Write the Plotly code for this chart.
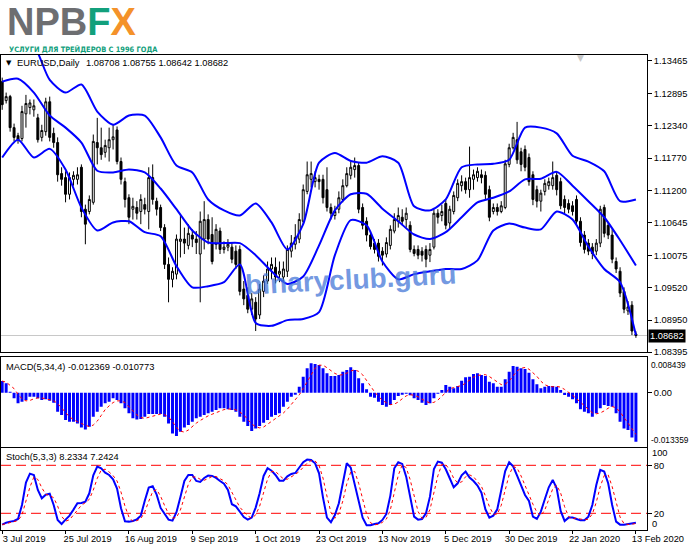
import plotly.graph_objects as go
import pandas as pd

# ---------------- data ----------------
open_ = [1.1310, 1.1277, 1.1284, 1.1230, 1.1216, 1.1211, 1.1254, 1.1265, 1.1261, 1.1247,
         1.1213, 1.1223, 1.1275, 1.1220, 1.1204, 1.1150, 1.1143, 1.1114, 1.1140, 1.1140,
         1.1161, 1.1088, 1.1084, 1.1100, 1.1204, 1.1195, 1.1187, 1.1195, 1.1209, 1.1226,
         1.1171, 1.1136, 1.1108, 1.1088, 1.1091, 1.1084, 1.1096, 1.1084, 1.1143, 1.1102,
         1.1091, 1.1056, 1.0992, 1.0966, 1.0975, 1.1032, 1.1036, 1.1025, 1.1043, 1.1036,
         1.1010, 1.1036, 1.1070, 1.1044, 1.1027, 1.1050, 1.1018, 1.1022, 1.1022, 1.1015,
         1.1018, 1.0949, 1.0938, 1.0914, 1.0926, 1.0904, 1.0945, 1.0963, 1.0984, 1.0987,
         1.0975, 1.0970, 1.0980, 1.1015, 1.1027, 1.1036, 1.1067, 1.1119, 1.1140, 1.1136,
         1.1140, 1.1140, 1.1122, 1.1091, 1.1077, 1.1088, 1.1105, 1.1129, 1.1147, 1.1157,
         1.1164, 1.1091, 1.1067, 1.1043, 1.1029, 1.1029, 1.1015, 1.1010, 1.1025, 1.1050,
         1.1067, 1.1074, 1.1070, 1.1060, 1.1018, 1.1018, 1.1015, 1.1018, 1.1008, 1.1022,
         1.1081, 1.1077, 1.1098, 1.1064, 1.1084, 1.1108, 1.1129, 1.1136, 1.1122, 1.1140,
         1.1143, 1.1148, 1.1147, 1.1122, 1.1084, 1.1091, 1.1084, 1.1091, 1.1166, 1.1195,
         1.1209, 1.1188, 1.1192, 1.1178, 1.1148, 1.1122, 1.1102, 1.1119, 1.1129, 1.1129,
         1.1147, 1.1136, 1.1105, 1.1098, 1.1094, 1.1105, 1.1067, 1.1043, 1.1029, 1.1022,
         1.1015, 1.1029, 1.1091, 1.1060, 1.1043, 1.0997, 1.0980, 1.0945, 1.0911, 1.0921,
         1.08708]
high = [1.1317, 1.1291, 1.1287, 1.1237, 1.1221, 1.1268, 1.1287, 1.1279, 1.1279, 1.1254,
        1.1235, 1.1282, 1.1284, 1.1230, 1.1213, 1.1161, 1.1154, 1.1152, 1.1154, 1.1161,
        1.1166, 1.1096, 1.1112, 1.1218, 1.1247, 1.1230, 1.1209, 1.1230, 1.1235, 1.1232,
        1.1178, 1.1143, 1.1114, 1.1108, 1.1102, 1.1114, 1.1108, 1.1161, 1.1166, 1.1108,
        1.1096, 1.1062, 1.1004, 1.0987, 1.1044, 1.1079, 1.1056, 1.1062, 1.1053, 1.1050,
        1.1084, 1.1102, 1.1079, 1.1074, 1.1062, 1.1056, 1.1032, 1.1036, 1.1030, 1.1025,
        1.1025, 1.0963, 1.0952, 1.0942, 1.0935, 1.0958, 1.0973, 1.0997, 1.1004, 1.1004,
        1.0997, 1.0997, 1.1025, 1.1043, 1.1062, 1.1081, 1.1131, 1.1171, 1.1171, 1.1154,
        1.1148, 1.1148, 1.1161, 1.1098, 1.1094, 1.1119, 1.1140, 1.1161, 1.1171, 1.1178,
        1.1169, 1.1098, 1.1074, 1.1050, 1.1036, 1.1036, 1.1022, 1.1039, 1.1060, 1.1081,
        1.1091, 1.1088, 1.1091, 1.1067, 1.1025, 1.1025, 1.1022, 1.1025, 1.1029, 1.1088,
        1.1088, 1.1096, 1.1105, 1.1094, 1.1119, 1.1140, 1.1147, 1.1143, 1.1197, 1.1157,
        1.1161, 1.1157, 1.1154, 1.1129, 1.1098, 1.1098, 1.1102, 1.1174, 1.1202, 1.1221,
        1.1240, 1.1195, 1.1199, 1.1185, 1.1154, 1.1129, 1.1122, 1.1140, 1.1143, 1.1171,
        1.1154, 1.1143, 1.1112, 1.1105, 1.1102, 1.1112, 1.1074, 1.1050, 1.1036, 1.1029,
        1.1036, 1.1094, 1.1096, 1.1064, 1.1053, 1.1004, 1.0987, 1.0952, 1.0928, 1.0928,
        1.08755]
low = [1.1261, 1.1272, 1.1223, 1.1206, 1.1202, 1.1206, 1.1230, 1.1253, 1.1249, 1.1204,
       1.1206, 1.1216, 1.1206, 1.1195, 1.1136, 1.1129, 1.1100, 1.1105, 1.1129, 1.1131,
       1.1074, 1.1027, 1.1079, 1.1096, 1.1166, 1.1174, 1.1178, 1.1171, 1.1192, 1.1166,
       1.1131, 1.1091, 1.1062, 1.1070, 1.1070, 1.1062, 1.1079, 1.1053, 1.1096, 1.1077,
       1.1050, 1.0984, 1.0926, 1.0952, 1.0966, 1.1004, 1.1010, 1.1018, 1.1022, 1.1010,
       1.0926, 1.1018, 1.1027, 1.0992, 1.1018, 1.1010, 1.1011, 1.1015, 1.0994, 1.0984,
       1.0938, 1.0921, 1.0907, 1.0904, 1.0876, 1.0897, 1.0935, 1.0958, 1.0966, 1.0959,
       1.0961, 1.0963, 1.0970, 1.1004, 1.1018, 1.1029, 1.1062, 1.1114, 1.1126, 1.1126,
       1.1122, 1.1098, 1.1084, 1.1070, 1.1070, 1.1081, 1.1100, 1.1126, 1.1140, 1.1143,
       1.1081, 1.1053, 1.1032, 1.1018, 1.1011, 1.0997, 1.0990, 1.1004, 1.1018, 1.1046,
       1.1056, 1.1060, 1.1056, 1.1013, 1.1006, 1.1001, 1.0997, 1.0987, 1.0996, 1.1018,
       1.1063, 1.1067, 1.1053, 1.1053, 1.1079, 1.1102, 1.1119, 1.1115, 1.1108, 1.1122,
       1.1136, 1.1133, 1.1105, 1.1067, 1.1079, 1.1077, 1.1081, 1.1088, 1.1161, 1.1192,
       1.1167, 1.1154, 1.1154, 1.1129, 1.1095, 1.1091, 1.1084, 1.1112, 1.1122, 1.1122,
       1.1112, 1.1088, 1.1081, 1.1081, 1.1077, 1.1060, 1.1023, 1.1011, 1.1008, 1.1001,
       1.1008, 1.1022, 1.1039, 1.1036, 1.0994, 1.0977, 1.0935, 1.0907, 1.0904, 1.0869,
       1.08642]
close = [1.1270, 1.1284, 1.1230, 1.1213, 1.1209, 1.1258, 1.1272, 1.1273, 1.1268, 1.1209,
         1.1225, 1.1275, 1.1213, 1.1204, 1.1148, 1.1140, 1.1114, 1.1143, 1.1147, 1.1148,
         1.1084, 1.1062, 1.1105, 1.1206, 1.1195, 1.1183, 1.1199, 1.1209, 1.1214, 1.1171,
         1.1140, 1.1105, 1.1074, 1.1093, 1.1081, 1.1105, 1.1088, 1.1143, 1.1105, 1.1088,
         1.1056, 1.0992, 1.0966, 1.0980, 1.1036, 1.1036, 1.1029, 1.1046, 1.1036, 1.1030,
         1.1067, 1.1070, 1.1036, 1.0997, 1.1053, 1.1018, 1.1022, 1.1027, 1.1001, 1.0992,
         1.0945, 1.0932, 1.0914, 1.0932, 1.0897, 1.0949, 1.0963, 1.0984, 1.0992, 1.0970,
         1.0980, 1.0984, 1.1018, 1.1029, 1.1039, 1.1070, 1.1122, 1.1148, 1.1150, 1.1143,
         1.1136, 1.1108, 1.1091, 1.1081, 1.1084, 1.1108, 1.1129, 1.1150, 1.1161, 1.1164,
         1.1088, 1.1060, 1.1043, 1.1023, 1.1018, 1.1006, 1.1008, 1.1030, 1.1053, 1.1070,
         1.1077, 1.1067, 1.1081, 1.1018, 1.1011, 1.1008, 1.1008, 1.1001, 1.1018, 1.1081,
         1.1074, 1.1084, 1.1060, 1.1088, 1.1112, 1.1133, 1.1136, 1.1122, 1.1143, 1.1148,
         1.1154, 1.1143, 1.1114, 1.1074, 1.1091, 1.1084, 1.1094, 1.1167, 1.1195, 1.1213,
         1.1174, 1.1166, 1.1161, 1.1136, 1.1105, 1.1102, 1.1116, 1.1133, 1.1136, 1.1143,
         1.1122, 1.1094, 1.1091, 1.1088, 1.1084, 1.1067, 1.1030, 1.1018, 1.1015, 1.1011,
         1.1029, 1.1088, 1.1046, 1.1043, 1.1001, 1.0984, 1.0942, 1.0914, 1.0918, 1.0876,
         1.08682]

# Bollinger bands read every 4th bar
bb_bars = list(range(0, 161, 4))
bb_upper = [1.1408, 1.1395, 1.1374, 1.1313, 1.1291, 1.1305, 1.1258, 1.1235, 1.1251, 1.1251,
            1.1213, 1.1164, 1.1152, 1.1105, 1.1086, 1.1077, 1.1098, 1.1065, 1.1018, 1.1062,
            1.1169, 1.1186, 1.1172, 1.1169, 1.1180, 1.1169, 1.1093, 1.1086, 1.1105, 1.1161,
            1.1166, 1.1167, 1.1174, 1.1230, 1.1230, 1.1220, 1.1181, 1.1171, 1.1154, 1.1102,
            1.1105]
bb_middle = [1.1310, 1.1315, 1.1291, 1.1251, 1.1230, 1.1204, 1.1155, 1.1152, 1.1157, 1.1152,
             1.1124, 1.1088, 1.1051, 1.1030, 1.1029, 1.1029, 1.1008, 1.0980, 1.0958, 1.0971,
             1.1025, 1.1086, 1.1114, 1.1115, 1.1089, 1.1067, 1.1044, 1.1036, 1.1048, 1.1074,
             1.1100, 1.1108, 1.1119, 1.1140, 1.1141, 1.1153, 1.1129, 1.1102, 1.1074, 1.1034,
             1.0990]
bb_lower = [1.1178, 1.1209, 1.1178, 1.1193, 1.1157, 1.1091, 1.1051, 1.1065, 1.1067, 1.1048,
            1.1041, 1.0989, 1.0952, 1.0954, 1.0961, 1.0992, 1.0890, 1.0885, 1.0895, 1.0897,
            1.0909, 1.1008, 1.1069, 1.1060, 1.0997, 1.0966, 1.0975, 1.0980, 1.0984, 1.0984,
            1.0999, 1.1051, 1.1063, 1.1056, 1.1053, 1.1084, 1.1070, 1.1023, 1.0984, 1.0961,
            1.0869]

macd_main = [0.002947, 0.002358, 0.000253, -0.001431, -0.002694, -0.002273, -0.001852, -0.001010, -0.001010, -0.001431,
             -0.001852, -0.001684, -0.002021, -0.002526, -0.004799, -0.005641, -0.006904, -0.007325, -0.007325, -0.007746,
             -0.008757, -0.009262, -0.008588, -0.006062, -0.004799, -0.003536, -0.002694, -0.002273, -0.001431, -0.001852,
             -0.002694, -0.003957, -0.005220, -0.006483, -0.006736, -0.006652, -0.006062, -0.005389, -0.005389, -0.005389,
             -0.005389, -0.006062, -0.007746, -0.010272, -0.010946, -0.009851, -0.008757, -0.008167, -0.007325, -0.006483,
             -0.006062, -0.005641, -0.005220, -0.004799, -0.004378, -0.003957, -0.003957, -0.004210, -0.004378, -0.004799,
             -0.006062, -0.007325, -0.008420, -0.009683, -0.009009, -0.008420, -0.007578, -0.006904, -0.006062, -0.005641,
             -0.005220, -0.003536, -0.002273, -0.001010, -0.000421, 0.001516, 0.004042, 0.006147, 0.007410, 0.007241,
             0.006989, 0.006147, 0.004884, 0.004210, 0.004210, 0.004463, 0.005305, 0.005726, 0.006399, 0.005726,
             0.003621, 0.002358, 0.000842, -0.001010, -0.001263, -0.002273, -0.003115, -0.003536, -0.003115, -0.001852,
             -0.000842, -0.000337, -0.000168, -0.000674, -0.001431, -0.001852, -0.002526, -0.003115, -0.002694, -0.001431,
             -0.000168, 0.000674, 0.001937, 0.001516, 0.001095, 0.001684, 0.003031, 0.003873, 0.004042, 0.004715,
             0.004884, 0.004463, 0.004210, 0.002779, 0.002358, 0.001516, 0.001516, 0.003368, 0.005305, 0.006736,
             0.006568, 0.006147, 0.005978, 0.005052, 0.003368, 0.002105, 0.001095, 0.001516, 0.001684, 0.001684,
             0.001516, 0.000674, -0.000589, -0.001010, -0.001684, -0.002694, -0.004210, -0.004799, -0.005220, -0.006062,
             -0.005220, -0.003957, -0.003115, -0.003368, -0.003536, -0.005220, -0.007325, -0.009009, -0.009430, -0.011283,
             -0.012369]

stoch_main = [5.8, 8.3, 9.6, 10.4, 12.9, 30.4, 58.3, 69.6, 67.9, 49.2,
              38.8, 43.3, 44.6, 30.4, 11.7, 6.7, 12.1, 17.1, 24.6, 32.5,
              32.9, 34.6, 45.0, 67.5, 78.3, 76.3, 70.8, 67.9, 62.5, 50.8,
              26.3, 10.0, 9.6, 10.4, 12.5, 17.1, 35.8, 52.1, 53.7, 43.3,
              26.7, 19.2, 12.1, 10.8, 21.3, 40.4, 60.4, 67.9, 67.9, 60.4,
              59.2, 64.2, 67.1, 66.7, 64.2, 60.4, 57.1, 49.2, 31.3, 28.7,
              22.5, 15.4, 12.1, 14.6, 27.1, 45.0, 66.7, 76.3, 73.3, 67.9,
              60.8, 60.8, 66.2, 69.2, 70.4, 77.1, 83.8, 87.1, 86.7, 82.5,
              70.0, 39.6, 14.6, 8.8, 17.9, 32.5, 55.4, 82.5, 77.1, 57.5,
              37.5, 14.6, 5.0, 5.0, 6.7, 7.5, 11.7, 19.2, 42.1, 76.3,
              83.8, 81.7, 65.8, 38.8, 15.8, 12.1, 12.9, 20.0, 40.8, 75.4,
              84.6, 83.3, 75.0, 63.8, 52.5, 57.5, 67.5, 72.1, 64.6, 60.4,
              54.6, 45.8, 25.0, 14.6, 17.1, 25.0, 47.9, 72.9, 83.8, 78.8,
              67.1, 54.2, 42.9, 35.4, 15.8, 12.9, 22.1, 37.5, 52.5, 61.7,
              51.3, 22.9, 10.4, 14.6, 14.6, 12.9, 11.2, 11.2, 15.8, 30.4,
              55.4, 74.2, 72.1, 57.5, 30.4, 9.6, 5.8, 5.8, 6.7, 6.7,
              8.2334]

date_labels = ["3 Jul 2019", "25 Jul 2019", "16 Aug 2019", "9 Sep 2019", "1 Oct 2019",
               "23 Oct 2019", "13 Nov 2019", "5 Dec 2019", "30 Dec 2019", "22 Jan 2020",
               "13 Feb 2020"]
date_label_bars = [0, 16, 32, 48, 64, 80, 96, 112, 128, 144, 160]
price_ticks = [1.13465, 1.12895, 1.12340, 1.11770, 1.11200, 1.10645, 1.10075, 1.09520, 1.08950, 1.08395]

for arr in (open_, high, low, close, macd_main, stoch_main):
    assert len(arr) == 161, len(arr)
for arr in (bb_upper, bb_middle, bb_lower):
    assert len(arr) == len(bb_bars), len(arr)

bars = list(range(len(close)))
# indicator signal lines (their definitions: SMA(4) of MACD, SMA(3) of %K)
macd_signal = pd.Series(macd_main).rolling(4, min_periods=1).mean().tolist()
stoch_signal = pd.Series(stoch_main).rolling(3, min_periods=1).mean().tolist()

# ---------------- figure ----------------
W, H = 691, 549
FONT = "Liberation Sans, Arial, sans-serif"
axis_font = dict(family=FONT, size=9.3, color="black")
small_font = dict(family=FONT, size=8.3, color="black")

def py(px):  # paper y from pixel row
    return 1 - px / H

def pxx(px):
    return px / W

xdom = [pxx(1), pxx(647)]
fig = go.Figure()

fig.add_trace(go.Candlestick(
    x=bars, open=open_, high=high, low=low, close=close,
    increasing=dict(line=dict(color="black", width=1), fillcolor="white"),
    decreasing=dict(line=dict(color="black", width=1), fillcolor="black"),
    whiskerwidth=0, xaxis="x", yaxis="y", hoverinfo="skip", showlegend=False))
for band in (bb_upper, bb_middle, bb_lower):
    fig.add_trace(go.Scatter(x=bb_bars, y=band, mode="lines",
                             line=dict(color="#0000ff", width=2, shape="spline", smoothing=0.7),
                             xaxis="x", yaxis="y", hoverinfo="skip", showlegend=False))

fig.add_trace(go.Bar(x=bars, y=macd_main, marker=dict(color="#0000ff", line=dict(width=0)),
                     xaxis="x2", yaxis="y2", hoverinfo="skip", showlegend=False))
fig.add_trace(go.Scatter(x=bars, y=macd_signal, mode="lines",
                         line=dict(color="#ff0000", width=1, dash="dot"),
                         xaxis="x2", yaxis="y2", hoverinfo="skip", showlegend=False))

fig.add_trace(go.Scatter(x=bars, y=stoch_main, mode="lines",
                         line=dict(color="#0000ff", width=2),
                         xaxis="x3", yaxis="y3", hoverinfo="skip", showlegend=False))
fig.add_trace(go.Scatter(x=bars, y=stoch_signal, mode="lines",
                         line=dict(color="#ff0000", width=1, dash="dot"),
                         xaxis="x3", yaxis="y3", hoverinfo="skip", showlegend=False))

common_x = dict(domain=xdom, showgrid=False, zeroline=False, showline=True, mirror=True,
                linecolor="black", linewidth=1, automargin=False)
common_y = dict(side="right", showgrid=False, zeroline=False, showline=True, mirror=True,
                linecolor="black", linewidth=1, ticks="outside", ticklen=4, tickcolor="black",
                tickfont=axis_font, automargin=False)

fig.update_layout(
    width=W, height=H, margin=dict(l=0, r=0, t=0, b=0, autoexpand=False),
    paper_bgcolor="white", plot_bgcolor="white", showlegend=False, bargap=0.25,
    xaxis=dict(common_x, anchor="y", range=[-0.3, 162.8], showticklabels=False, ticks="",
               rangeslider=dict(visible=False)),
    xaxis2=dict(common_x, anchor="y2", matches="x", showticklabels=False, ticks=""),
    xaxis3=dict(common_x, anchor="y3", matches="x", tickvals=date_label_bars, ticktext=date_labels,
                ticks="outside", ticklen=3, tickcolor="black", tickfont=axis_font,
                ticklabelshift=22, ticklabelstandoff=-3),
    yaxis=dict(common_y, domain=[py(352), py(55)], anchor="x", range=[1.08395, 1.13564],
               tickvals=price_ticks, ticktext=[f"{v:.5f}" for v in price_ticks]),
    yaxis2=dict(common_y, domain=[py(446.7), py(356.7)], anchor="x2", range=[-0.013636, 0.009091],
                tickvals=[0], ticktext=["0.00"]),
    yaxis3=dict(common_y, domain=[py(530), py(448.3)], anchor="x3", range=[-0.875, 101.25],
                tickvals=[20, 80], ticktext=["20", "80"]),
)

shapes = [
    dict(type="line", xref="x domain", yref="y", x0=0, x1=1, y0=close[-1], y1=close[-1],
         line=dict(color="#c8c8c8", width=1), layer="below"),
]
for lvl in (80, 20):
    shapes.append(dict(type="line", xref="x3 domain", yref="y3", x0=0, x1=1, y0=lvl, y1=lvl,
                       line=dict(color="#ff0000", width=1, dash="10px,5px"), layer="below"))
fig.update_layout(shapes=shapes)

ann = []
# logo
ann.append(dict(xref="paper", yref="paper", x=pxx(5), y=py(22), xanchor="left", yanchor="middle",
                showarrow=False, height=34, valign="middle",
                text="<b><span style='color:#6d6e71'>NPB</span><span style='color:#12a07c'>F</span>"
                     "<span style='color:#f4922a'>X</span></b>",
                font=dict(family=FONT, size=38)))
ann.append(dict(xref="paper", yref="paper", x=pxx(7), y=py(49), xanchor="left", yanchor="middle",
                showarrow=False, height=9, valign="middle",
                text="<b>УСЛУГИ ДЛЯ ТРЕЙДЕРОВ С 1996 ГОДА</b>",
                font=dict(family="DejaVu Sans Condensed, sans-serif",
                          size=7.4, color="#12a07c")))
# header texts
ann.append(dict(xref="paper", yref="paper", x=pxx(4), y=py(63), xanchor="left", yanchor="middle",
                showarrow=False, text="▼", font=dict(family="DejaVu Sans", size=7, color="black")))
ann.append(dict(xref="paper", yref="paper", x=pxx(15), y=py(63), xanchor="left", yanchor="middle",
                showarrow=False, text="EURUSD,Daily", font=axis_font))
ann.append(dict(xref="paper", yref="paper", x=pxx(84), y=py(63), xanchor="left", yanchor="middle",
                showarrow=False,
                text=f"{open_[-1]:.5f} {high[-1]:.5f} {low[-1]:.5f} {close[-1]:.5f}",
                font=axis_font))
ann.append(dict(xref="paper", yref="paper", x=pxx(4), y=py(367), xanchor="left", yanchor="middle",
                showarrow=False,
                text=f"MACD(5,34,4) {macd_main[-1]:.6f} -0.010773", font=axis_font))
ann.append(dict(xref="paper", yref="paper", x=pxx(4), y=py(457), xanchor="left", yanchor="middle",
                showarrow=False,
                text=f"Stoch(5,3,3) {stoch_main[-1]:.4f} 7.2424", font=axis_font))
# chart-shift marker
ann.append(dict(xref="paper", yref="paper", x=pxx(580), y=py(58), xanchor="center", yanchor="middle",
                showarrow=False, text="▼", font=dict(family="DejaVu Sans", size=9, color="#c8c8c8")))
# watermark
ann.append(dict(xref="paper", yref="paper", x=pxx(351), y=py(279), xanchor="center", yanchor="middle",
                showarrow=False, text="<b>binaryclub.guru</b>", textangle=-3,
                font=dict(family=FONT, size=28, color="rgba(70,120,215,0.75)")))
# current price box
ann.append(dict(xref="paper", yref="y", x=pxx(647.5), y=close[-1], xanchor="left", yanchor="middle",
                showarrow=False, text=f"{close[-1]:.5f}", bgcolor="black", borderpad=1,
                font=dict(family=FONT, size=9.3, color="white")))
# panel extreme labels (MT4 draws them inside the panel)
ann.append(dict(xref="paper", yref="y2", x=pxx(649), y=0.008439, yshift=-6, xanchor="left",
                yanchor="middle", showarrow=False, text="0.008439", font=small_font))
ann.append(dict(xref="paper", yref="y2", x=pxx(649), y=-0.013359, yshift=6, xanchor="left",
                yanchor="middle", showarrow=False, text="-0.013359", font=small_font))
ann.append(dict(xref="paper", yref="y3", x=pxx(650), y=100, yshift=-4, xanchor="left",
                yanchor="middle", showarrow=False, text="100", font=axis_font))
ann.append(dict(xref="paper", yref="y3", x=pxx(650), y=0, yshift=5, xanchor="left",
                yanchor="middle", showarrow=False, text="0", font=axis_font))
fig.update_layout(annotations=ann)

fig.write_html(
    "out.html",
    config={"displayModeBar": False},
    post_script="document.body.style.margin='0';document.body.style.padding='0';"
                "document.documentElement.style.overflow='hidden';",
)
